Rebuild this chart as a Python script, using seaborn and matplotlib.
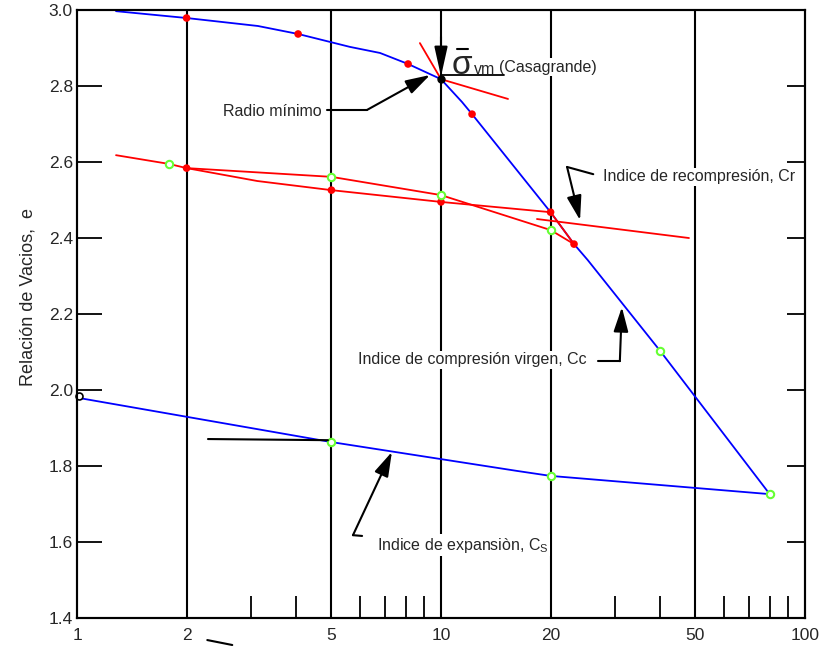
import numpy as np
import matplotlib
matplotlib.use("Agg")
import matplotlib.pyplot as plt
from matplotlib.ticker import FixedLocator, NullFormatter
import seaborn as sns

sns.set_style("white")
plt.rcParams['font.family'] = ['Liberation Sans', 'DejaVu Sans']
plt.rcParams['mathtext.fontset'] = 'dejavusans'

# Curva virgen (carga)
virgin_x = [1.28, 2.0, 3.14, 4.05, 5.62, 6.80, 8.12, 10.0, 11.42, 12.17, 20.0, 23.2, 25.3, 40.0, 80.0]
virgin_e = [2.997, 2.979, 2.958, 2.937, 2.903, 2.887, 2.858, 2.818, 2.758, 2.726, 2.468, 2.384, 2.342, 2.103, 1.726]

# Curva de descarga (expansion)
exp_x = [80.0, 20.0, 16.2, 5.0, 1.013]
exp_e = [1.726, 1.774, 1.787, 1.863, 1.979]

# Curvas de recarga
recg_x = [1.28, 1.79, 2.0, 5.0, 10.0, 20.0, 23.2]
recg_e = [2.618, 2.595, 2.584, 2.561, 2.513, 2.421, 2.384]
recr_x = [2.0, 3.13, 5.0, 10.0, 20.0, 23.2]
recr_e = [2.584, 2.55, 2.526, 2.495, 2.468, 2.384]

# puntos
red_x = [2.0, 4.05, 8.12, 12.17, 20.0, 23.2, 2.0, 5.0, 10.0]
red_e = [2.979, 2.937, 2.858, 2.726, 2.468, 2.384, 2.584, 2.526, 2.495]
green_x = [1.79, 5.0, 10.0, 20.0, 40.0, 80.0, 20.0, 5.0]
green_e = [2.595, 2.561, 2.513, 2.421, 2.103, 1.726, 1.774, 1.863]

# Lineas de construccion (Casagrande, Cr)
steep_x, steep_e = [8.75, 10.0], [2.913, 2.818]
tang_x, tang_e = [10.0, 15.28], [2.818, 2.766]
cr_x, cr_e = [18.35, 48.0], [2.45, 2.40]

sigma_vm = (10.0, 2.818)

x_ticks = [1, 2, 5, 10, 20, 50, 100]
x_minor = [3, 4, 6, 7, 8, 9, 30, 40, 60, 70, 80, 90]
y_ticks = [1.4, 1.6, 1.8, 2.0, 2.2, 2.4, 2.6, 2.8, 3.0]

FS = 11.5
TFS = 12.5

fig = plt.figure(figsize=(8.21, 6.47), dpi=100)
ax = fig.add_axes([0.0938, 0.0448, 0.8867, 0.9397])
ax.set_xscale('log')

for v in [2, 5, 10, 20, 50]:
    ax.axvline(v, color='black', lw=1.5, zorder=1)

sns.lineplot(x=virgin_x, y=virgin_e, sort=False, estimator=None, color='#0000FF', lw=1.3, ax=ax, zorder=3)
sns.lineplot(x=exp_x, y=exp_e, sort=False, estimator=None, color='#0000FF', lw=1.3, ax=ax, zorder=3)
sns.lineplot(x=recg_x, y=recg_e, sort=False, estimator=None, color='#FF0000', lw=1.3, ax=ax, zorder=3)
sns.lineplot(x=recr_x, y=recr_e, sort=False, estimator=None, color='#FF0000', lw=1.3, ax=ax, zorder=3)
for lx, ly in [(steep_x, steep_e), (tang_x, tang_e), (cr_x, cr_e)]:
    sns.lineplot(x=lx, y=ly, sort=False, estimator=None, color='#FF0000', lw=1.3, ax=ax, zorder=3)

sns.scatterplot(x=red_x, y=red_e, color='#FF0000', s=30, edgecolor='none', ax=ax, zorder=5)
sns.scatterplot(x=green_x, y=green_e, facecolor='white', edgecolor='#66FF33', linewidth=1.5, s=28, ax=ax, zorder=5)
ax.plot([sigma_vm[0]], [sigma_vm[1]], 'o', color='black', ms=5, zorder=6)
ax.plot([1.013], [1.984], 'o', mfc='white', mec='black', ms=5, mew=1.2, zorder=6, clip_on=False)

ax.set_xlim(1, 100)
ax.set_ylim(1.4, 3.0)

ax.set_xticks(x_ticks)
ax.set_xticklabels([str(t) for t in x_ticks], fontsize=TFS)
ax.xaxis.set_minor_locator(FixedLocator(x_minor))
ax.xaxis.set_minor_formatter(NullFormatter())
ax.tick_params(axis='x', which='major', length=0, pad=7)
ax.tick_params(axis='x', which='minor', direction='in', length=16, width=1.3, color='black', bottom=True)

ax.set_yticks(y_ticks)
ax.set_yticklabels([f'{t:.1f}' for t in y_ticks], fontsize=TFS)
ax.tick_params(axis='y', which='major', direction='in', length=18, width=1.3, color='black', left=True, pad=3)

ax2 = ax.twinx()
ax2.set_ylim(1.4, 3.0)
ax2.set_yticks(y_ticks)
ax2.set_yticklabels([])
ax2.tick_params(axis='y', direction='in', length=13, width=1.3, color='black', right=True)

for a in (ax, ax2):
    for s in a.spines.values():
        s.set_color('black')
        s.set_linewidth(1.5)

ax.set_ylabel('Relación de Vacios,  e', fontsize=13)
ax.yaxis.set_label_coords(-0.055, 0.528)

box = dict(facecolor='white', edgecolor='none', pad=1)
head = dict(arrowstyle='-|>,head_length=1.5,head_width=0.45', color='black', lw=1.5,
            shrinkA=0, shrinkB=0, mutation_scale=10)

# sigma_vm (Casagrande)
ax.annotate('', xy=sigma_vm, xytext=(10.0, 2.93),
            arrowprops=dict(arrowstyle='-|>,head_length=1.8,head_width=0.4', color='black', lw=1.5,
                            shrinkA=0, shrinkB=2, mutation_scale=10), zorder=7)
ax.text(11.42, 2.8316, 'σ', fontsize=24, ha='center', va='baseline', zorder=8)
ax.plot([11.1, 11.88], [2.897, 2.897], color='black', lw=1.5, zorder=8)
ax.text(12.3, 2.8316, 'vm', fontsize=FS, ha='left', va='baseline', zorder=8)
ax.text(14.43, 2.85, '(Casagrande)', fontsize=FS, ha='left', va='center', bbox=box, zorder=8)
ax.plot([10.02, 14.94], [2.829, 2.829], color='black', lw=1.3, zorder=8)

# Radio minimo
ax.text(4.71, 2.734, 'Radio mínimo', fontsize=FS, ha='right', va='center', bbox=box, zorder=8)
ax.plot([4.86, 6.26], [2.737, 2.737], color='black', lw=1.5, zorder=7)
ax.annotate('', xy=(9.33, 2.829), xytext=(6.26, 2.737), arrowprops=head, zorder=7)

# Cr
ax.text(27.9, 2.561, 'Indice de recompresión, Cr', fontsize=FS, ha='left', va='center', bbox=box, zorder=8)
ax.plot([26.2, 22.2], [2.568, 2.587], color='black', lw=1.5, zorder=7)
ax.annotate('', xy=(24.1, 2.447), xytext=(22.2, 2.587), arrowprops=head, zorder=7)

# Cc
ax.text(5.92, 2.08, 'Indice de compresión virgen, Cc', fontsize=FS, ha='left', va='center', bbox=box, zorder=8)
ax.plot([27.0, 31.0], [2.076, 2.076], color='black', lw=1.5, zorder=7)
ax.annotate('', xy=(31.4, 2.218), xytext=(31.0, 2.076), arrowprops=head, zorder=7)

# Cs
ax.text(6.67, 1.592, r'Indice de expansiòn, C$_{\mathregular{S}}$', fontsize=FS, ha='left', va='center',
        bbox=box, zorder=8)
ax.plot([6.07, 5.73], [1.616, 1.618], color='black', lw=1.5, zorder=7)
ax.annotate('', xy=(7.33, 1.837), xytext=(5.73, 1.618), arrowprops=head, zorder=7)

ax.plot([2.29, 4.89], [1.871, 1.868], color='black', lw=1.5, zorder=7)
ax.plot([2.28, 2.67], [1.342, 1.329], color='black', lw=1.5, zorder=7, clip_on=False)

fig.savefig('out.png', dpi=100)
